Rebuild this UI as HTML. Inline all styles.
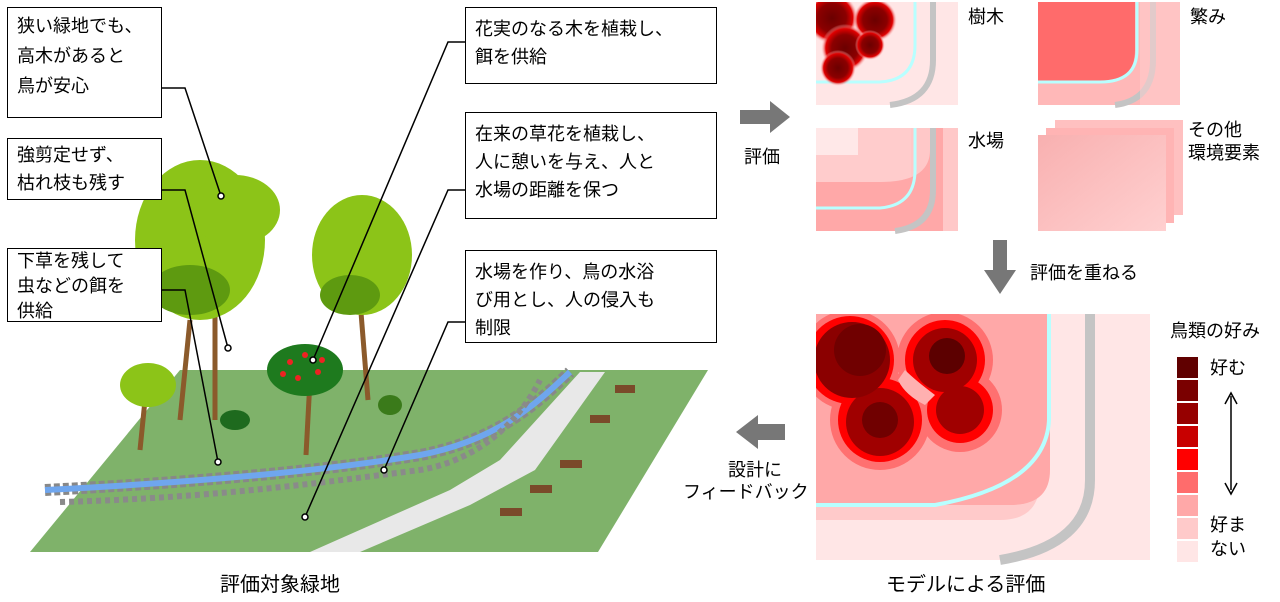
<!DOCTYPE html><html><head><meta charset="utf-8"><style>
body{margin:0;width:1280px;height:602px;background:#fff;overflow:hidden;font-family:"Liberation Sans","Noto Sans CJK JP",sans-serif;position:relative}
.b{position:absolute;border:1.5px solid #000;background:#fff;font-size:18px;line-height:28px;padding:5px 9px;box-sizing:border-box;color:#000}
.t{position:absolute;font-size:18px;color:#000;line-height:23px}
</style></head><body>
<svg width="1280" height="602" style="position:absolute;left:0;top:0">
<defs>
<radialGradient id="blob"><stop offset="0" stop-color="#6b0000"/><stop offset=".55" stop-color="#8b0000"/><stop offset=".8" stop-color="#e00000"/><stop offset="1" stop-color="#ffdada" stop-opacity="0"/></radialGradient>
<linearGradient id="oth" x1="0" y1="0" x2="1" y2="1"><stop offset="0" stop-color="#f8b0b0"/><stop offset="1" stop-color="#ffd0d0"/></linearGradient>
<clipPath id="c1"><rect x="816" y="2" width="142" height="103"/></clipPath>
<clipPath id="c2"><rect x="816" y="314" width="334" height="246"/></clipPath>
</defs>
<!-- ground -->
<polygon points="180,370 708,370 598,552 30,552" fill="#7fb26a"/>
<path d="M45,490 C200,482 330,470 420,455 C500,440 540,400 570,372" stroke="#888" stroke-width="12" fill="none" stroke-dasharray="6 3"/>
<path d="M45,490 C200,482 330,470 420,455 C500,440 540,400 570,372" stroke="#6fa6ee" stroke-width="6" fill="none"/>
<path d="M60,502 C220,498 340,480 420,470 C480,460 520,420 540,380" stroke="#8a8a8a" stroke-width="6" fill="none" stroke-dasharray="5 4"/>
<polygon points="310,552 360,552 470,505 535,470 605,372 580,372 500,460 450,490" fill="#e8e8e8"/>
<g fill="#7a4a2a"><rect x="500" y="508" width="22" height="8"/><rect x="530" y="485" width="22" height="8"/><rect x="560" y="460" width="22" height="8"/><rect x="590" y="415" width="20" height="8"/><rect x="615" y="385" width="20" height="8"/></g>
<!-- trees -->
<g stroke="#8b5a2b" stroke-width="5"><line x1="190" y1="320" x2="180" y2="420"/><line x1="215" y1="300" x2="215" y2="420"/><line x1="360" y1="300" x2="368" y2="400"/><line x1="145" y1="400" x2="140" y2="450"/><line x1="310" y1="380" x2="306" y2="455"/></g>
<g fill="#8cc418"><ellipse cx="200" cy="240" rx="65" ry="80"/><ellipse cx="235" cy="210" rx="45" ry="35"/><ellipse cx="362" cy="255" rx="50" ry="60"/><ellipse cx="148" cy="385" rx="28" ry="22"/></g>
<g fill="#5e9a10"><ellipse cx="190" cy="290" rx="40" ry="25"/><ellipse cx="350" cy="295" rx="30" ry="20"/></g>
<ellipse cx="305" cy="370" rx="38" ry="26" fill="#1e7a1e"/>
<g fill="#e22"><circle cx="290" cy="362" r="3"/><circle cx="305" cy="355" r="3"/><circle cx="318" cy="372" r="3"/><circle cx="298" cy="378" r="3"/><circle cx="322" cy="360" r="3"/><circle cx="283" cy="374" r="3"/></g>
<ellipse cx="235" cy="420" rx="15" ry="10" fill="#1e6a1e"/><ellipse cx="390" cy="405" rx="12" ry="10" fill="#3a7a1a"/>
<!-- leader lines -->
<g stroke="#000" stroke-width="1.5" fill="none">
<polyline points="162,88 185,88 221,196"/><circle cx="221" cy="196" r="3" fill="#fff"/>
<polyline points="162,190 185,190 228,348"/><circle cx="228" cy="348" r="3" fill="#fff"/>
<polyline points="162,290 185,290 218,462"/><circle cx="218" cy="462" r="3" fill="#fff"/>
<polyline points="465,42 448,42 313,360"/><circle cx="313" cy="360" r="3" fill="#fff"/>
<polyline points="465,190 448,190 305,517"/><circle cx="305" cy="517" r="3" fill="#fff"/>
<polyline points="465,322 448,322 384,470"/><circle cx="384" cy="470" r="3" fill="#fff"/>
</g>
<!-- arrows -->
<polygon points="740,110 770,110 770,101 790,117 770,133 770,124 740,124" fill="#777"/>
<polygon points="993,240 1007,240 1007,270 1016,270 1000,294 984,270 993,270" fill="#777"/>
<polygon points="785,424 758,424 758,415 736,432 758,449 758,440 785,440" fill="#777"/>
<!-- small maps -->
<g>
<rect x="816" y="2" width="142" height="103" fill="#ffe6e6"/>
<path d="M816,82 L880,82 Q915,80 915,45 L915,2" stroke="#b8ffff" stroke-width="3" fill="none"/>
<path d="M890,105 Q933,100 933,60 L933,2" stroke="#c4c4c4" stroke-width="6" fill="none"/>
<g clip-path="url(#c1)"><circle cx="832" cy="18" r="26" fill="url(#blob)"/><circle cx="875" cy="20" r="22" fill="url(#blob)"/><circle cx="845" cy="48" r="24" fill="url(#blob)"/><circle cx="838" cy="68" r="18" fill="url(#blob)"/><circle cx="870" cy="45" r="15" fill="url(#blob)"/></g>
<rect x="1038" y="2" width="142" height="103" fill="#ffb8b8"/>
<path d="M1038,2 L1135,2 L1135,50 Q1135,82 1100,82 L1038,82 Z" fill="#ff6b6b"/>
<path d="M1038,82 L1100,82 Q1137,82 1137,50 L1137,2" stroke="#b8ffff" stroke-width="3" fill="none"/>
<path d="M1115,105 Q1153,100 1153,60 L1153,2" stroke="#c4c4c4" stroke-width="6" fill="none"/>
<rect x="1140" y="2" width="40" height="103" fill="#ffd0d0" opacity=".5"/>
<rect x="816" y="128" width="142" height="103" fill="#ffc8c8"/>
<rect x="816" y="128" width="95" height="55" fill="#ffcccc"/><rect x="816" y="128" width="42" height="27" fill="#ffe8e8"/>
<path d="M816,182 L880,182 Q930,182 930,150 L930,128 L943,128 L943,231 L816,231 Z" fill="#ffa8a8"/>
<path d="M816,208 L880,208 Q915,205 915,170 L915,128" stroke="#b8ffff" stroke-width="3" fill="none"/>
<path d="M895,231 Q933,226 933,190 L933,128" stroke="#c4c4c4" stroke-width="6" fill="none"/>
<rect x="1055" y="120" width="128" height="95" fill="#ffc0c0"/>
<rect x="1046" y="128" width="128" height="95" fill="#ffb4b4"/>
<rect x="1038" y="135" width="128" height="96" fill="url(#oth)"/>
<!-- big map -->
<rect x="816" y="314" width="334" height="246" fill="#ffe6e6"/>
<path d="M816,314 L1040,314 L1040,480 Q1040,520 1000,520 L816,520 Z" fill="#ffcaca"/>
<path d="M816,314 L1050,314 L1050,470 Q1050,505 1010,505 L816,505Z" fill="#ffa8a8"/>
<path d="M816,505 L935,505 Q1046,485 1049,420 L1049,314" stroke="#b8ffff" stroke-width="4" fill="none"/>
<path d="M1000,560 Q1090,545 1090,480 L1090,314" stroke="#c4c4c4" stroke-width="10" fill="none"/>
<g clip-path="url(#c2)">
<circle cx="945" cy="360" r="48" fill="#ff7070"/><circle cx="880" cy="420" r="50" fill="#ff7070"/><circle cx="960" cy="410" r="42" fill="#ff7070"/><circle cx="850" cy="360" r="50" fill="#ff7070"/>
<circle cx="945" cy="360" r="40" fill="#ff0000"/><circle cx="880" cy="420" r="42" fill="#ff0000"/><circle cx="960" cy="410" r="33" fill="#ff0000"/><circle cx="850" cy="360" r="44" fill="#ff0000"/>
<circle cx="945" cy="360" r="32" fill="#a00000"/><circle cx="880" cy="422" r="34" fill="#a00000"/><circle cx="960" cy="410" r="24" fill="#a00000"/><circle cx="852" cy="360" r="38" fill="#8b0000"/>
<circle cx="947" cy="356" r="18" fill="#5c0000"/><circle cx="880" cy="420" r="18" fill="#700000"/><circle cx="860" cy="350" r="26" fill="#700000"/>
<path d="M905,370 Q915,380 935,395 L925,405 Q905,395 898,380Z" fill="#ffb0b0"/>
</g>
<!-- legend -->
<g><rect x="1177" y="357" width="21" height="21" fill="#600000"/><rect x="1177" y="380" width="21" height="21" fill="#7a0000"/><rect x="1177" y="403" width="21" height="21" fill="#960000"/><rect x="1177" y="426" width="21" height="21" fill="#c80000"/><rect x="1177" y="449" width="21" height="21" fill="#ff0000"/><rect x="1177" y="472" width="21" height="21" fill="#ff6c6c"/><rect x="1177" y="495" width="21" height="21" fill="#ffa8a8"/><rect x="1177" y="518" width="21" height="21" fill="#ffcaca"/><rect x="1177" y="541" width="21" height="21" fill="#ffe6e6"/></g>
<line x1="1231" y1="396" x2="1231" y2="490" stroke="#000" stroke-width="1.5"/>
<polyline points="1225,404 1231,393 1237,404" stroke="#000" fill="none" stroke-width="1.5"/><polyline points="1225,483 1231,494 1237,483" stroke="#000" fill="none" stroke-width="1.5"/>
</g>
</svg>
<div class="b" style="left:7px;top:7px;width:155px;height:111px;line-height:30px;padding-top:3px">狭い緑地でも、<br>高木があると<br>鳥が安心</div>
<div class="b" style="left:7px;top:138px;width:155px;height:62px;padding-top:2px">強剪定せず、<br>枯れ枝も残す</div>
<div class="b" style="left:7px;top:248px;width:155px;height:74px;padding-top:0px;line-height:25px">下草を残して<br>虫などの餌を<br>供給</div>
<div class="b" style="left:465px;top:7px;width:252px;height:77px;padding-top:7px">花実のなる木を植栽し、<br>餌を供給</div>
<div class="b" style="left:465px;top:112px;width:252px;height:107px;padding-top:7px">在来の草花を植栽し、<br>人に憩いを与え、人と<br>水場の距離を保つ</div>
<div class="b" style="left:465px;top:250px;width:252px;height:93px;padding-top:7px">水場を作り、鳥の水浴<br>び用とし、人の侵入も<br>制限</div>
<div class="t" style="left:968px;top:6px">樹木</div>
<div class="t" style="left:1190px;top:6px">繁み</div>
<div class="t" style="left:968px;top:130px">水場</div>
<div class="t" style="left:1188px;top:119px">その他<br>環境要素</div>
<div class="t" style="left:744px;top:146px">評価</div>
<div class="t" style="left:1030px;top:262px">評価を重ねる</div>
<div class="t" style="left:712px;top:459px;text-align:right;width:70px">設計に</div>
<div class="t" style="left:683px;top:481px">フィードバック</div>
<div class="t" style="left:1170px;top:320px">鳥類の好み</div>
<div class="t" style="left:1210px;top:357px">好む</div>
<div class="t" style="left:1210px;top:514px">好ま</div>
<div class="t" style="left:1210px;top:538px">ない</div>
<div class="t" style="left:220px;top:574px;font-size:20px">評価対象緑地</div>
<div class="t" style="left:886px;top:574px;font-size:20px">モデルによる評価</div>
</body></html>
